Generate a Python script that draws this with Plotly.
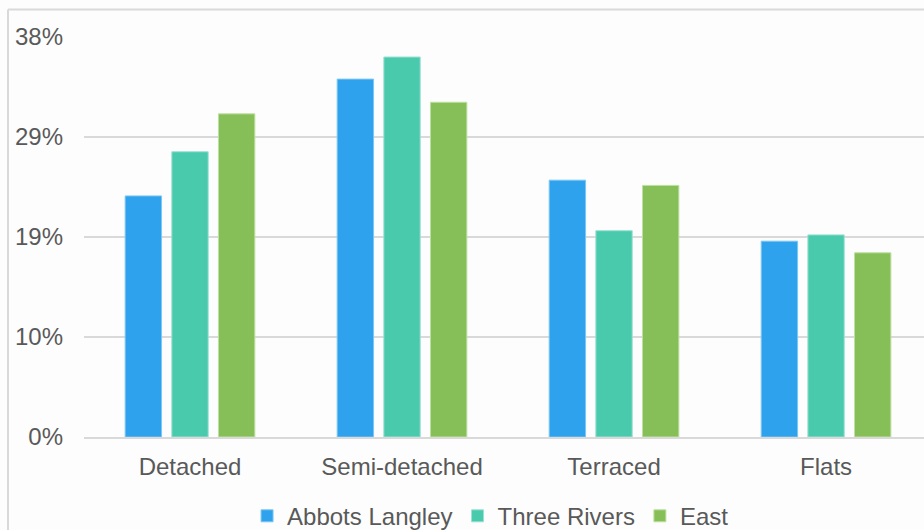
import plotly.graph_objects as go

# Dwelling type shares by area (percent of households)
categories = ["Detached", "Semi-detached", "Terraced", "Flats"]
abbots_langley = [22.9, 34.0, 24.4, 18.6]
three_rivers = [27.1, 36.1, 19.6, 19.2]
east = [30.7, 31.8, 23.9, 17.5]

y_tickvals = [0, 9.5, 19, 28.5, 38]
y_ticktext = ["0%", "10%", "19%", "29%", "38%"]

series = [
    ("Abbots Langley", abbots_langley, "#2EA2EC", "#7CC6F4"),
    ("Three Rivers", three_rivers, "#4ACAAD", "#9BE2D2"),
    ("East", east, "#86BF57", "#BEE0A2"),
]

text_color = "#595959"
grid_color = "#D9D9D9"
font_family = "Liberation Sans, Arial, sans-serif"

fig = go.Figure()
for name, vals, color, edge in series:
    fig.add_trace(go.Bar(
        name=name,
        x=categories,
        y=vals,
        marker=dict(color=color, line=dict(color=edge, width=1)),
    ))

fig.update_layout(
    width=924,
    height=530,
    margin=dict(l=84, r=0, t=37, b=93, pad=0, autoexpand=False),
    paper_bgcolor="#FDFDFD",
    plot_bgcolor="#FDFDFD",
    barmode="group",
    bargap=0.34,
    bargroupgap=0.22,
    font=dict(family=font_family, color=text_color, size=24),
    showlegend=True,
    legend=dict(
        orientation="h",
        x=0.484,
        xanchor="center",
        y=-0.198,
        yanchor="middle",
        font=dict(size=24, color=text_color),
        itemwidth=30,
        traceorder="normal",
        bgcolor="rgba(0,0,0,0)",
    ),
    xaxis=dict(
        type="category",
        categoryorder="array",
        categoryarray=categories,
        range=[-0.5, 3.462],
        showgrid=False,
        showline=True,
        linecolor=grid_color,
        linewidth=2,
        ticks="",
        ticklabelstandoff=7,
        tickfont=dict(size=24, color=text_color),
        fixedrange=True,
    ),
    yaxis=dict(
        range=[0, 38],
        tickvals=y_tickvals,
        ticktext=y_ticktext,
        showgrid=True,
        gridcolor=grid_color,
        gridwidth=2,
        zeroline=False,
        showline=False,
        ticks="",
        ticklabelstandoff=20,
        tickfont=dict(size=24, color=text_color),
        fixedrange=True,
    ),
    shapes=[
        # chart-area border (top and left edges)
        dict(type="line", xref="paper", yref="paper",
             x0=-76 / 840, x1=1.01, y0=1 + 27.5 / 400, y1=1 + 27.5 / 400,
             line=dict(color=grid_color, width=2)),
        dict(type="line", xref="paper", yref="paper",
             x0=-76 / 840, x1=-76 / 840, y0=1 + 27.5 / 400, y1=-0.3,
             line=dict(color=grid_color, width=2)),
    ],
)

fig.write_html("out.html", config={"displayModeBar": False})
